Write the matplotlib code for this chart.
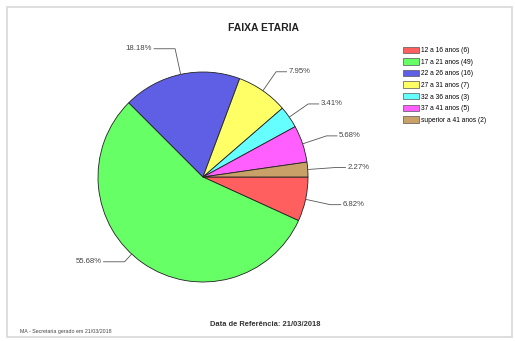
import numpy as np
import matplotlib.pyplot as plt
from matplotlib.patches import Rectangle

plt.rcParams['font.family'] = ['Liberation Sans', 'DejaVu Sans']

# dados
faixas = ['12 a 16 anos', '17 a 21 anos', '22 a 26 anos', '27 a 31 anos',
          '32 a 36 anos', '37 a 41 anos', 'superior a 41 anos']
qtd = [6, 49, 16, 7, 3, 5, 2]
cores = ['#ff5f5f', '#66ff66', '#5f5fe6', '#ffff66', '#66ffff', '#ff5fff', '#c8a068']

W, H = 515, 341
fig = plt.figure(figsize=(W / 100, H / 100), dpi=100)
fig.patch.set_facecolor('white')

# moldura
fig.patches.append(Rectangle((7 / W, 4 / H), 505 / W, 330 / H, transform=fig.transFigure,
                             fill=False, edgecolor='#d8d8d8', linewidth=1.2))

# pizza: centro (203,177), raio 105 px
cx, cy, r = 203, 177, 105
ax = fig.add_axes([(cx - r) / W, 1 - (cy + r) / H, 2 * r / W, 2 * r / H])
wedges, _ = ax.pie(qtd, colors=cores, startangle=0, counterclock=False,
                   wedgeprops=dict(edgecolor='#222222', linewidth=0.6))
ax.set_xlim(-1, 1)
ax.set_ylim(-1, 1)
ax.set_aspect('equal')

# ajuste do ponto de ancoragem (graus) e raio do cotovelo de cada rótulo
desvio = [0, -8, 0, 0, 0, 0, 0]
r_cot = [1.24, 1.10, 1.25, 1.22, 1.22, 1.24, 1.26]

total = sum(qtd)
for w, v, d, rc in zip(wedges, qtd, desvio, r_cot):
    ang = np.deg2rad((w.theta1 + w.theta2) / 2 + d)
    x0, y0 = np.cos(ang), np.sin(ang)
    x1, y1 = rc * x0, rc * y0
    sgn = 1 if x0 >= 0 else -1
    x2 = x1 + sgn * (0.10 if sgn > 0 else 0.2)
    ax.plot([x0, x1, x2], [y0, y1, y1], color='#555555', lw=0.6, clip_on=False)
    ax.text(x2 + sgn * 0.02, y1, '%.2f%%' % (100.0 * v / total), fontsize=5.6,
            color='#444444', ha='left' if sgn > 0 else 'right', va='center')

fig.text(264 / W, 1 - 28 / H, 'FAIXA ETARIA', fontsize=7.5, fontweight='bold',
         ha='center', va='center', color='#222222')

handles = [Rectangle((0, 0), 1, 1, facecolor=c, edgecolor='#555555', linewidth=0.5)
           for c in cores]
labels = ['%s (%d)' % (f, q) for f, q in zip(faixas, qtd)]
fig.legend(handles, labels, loc='upper left', bbox_to_anchor=(400 / W, 1 - 44 / H),
           frameon=False, fontsize=4.8, handlelength=2.4, handleheight=1.1,
           labelspacing=0.62, handletextpad=0.4, borderaxespad=0)

fig.text(265 / W, 1 - 325 / H, 'Data de Referência: 21/03/2018', fontsize=5.4,
         fontweight='bold', ha='center', va='center', color='#333333')
fig.text(20 / W, 1 - 331 / H, 'MA - Secretaria gerado em 21/03/2018', fontsize=3.8,
         ha='left', va='center', color='#444444')

fig.savefig('out.png', dpi=100)
